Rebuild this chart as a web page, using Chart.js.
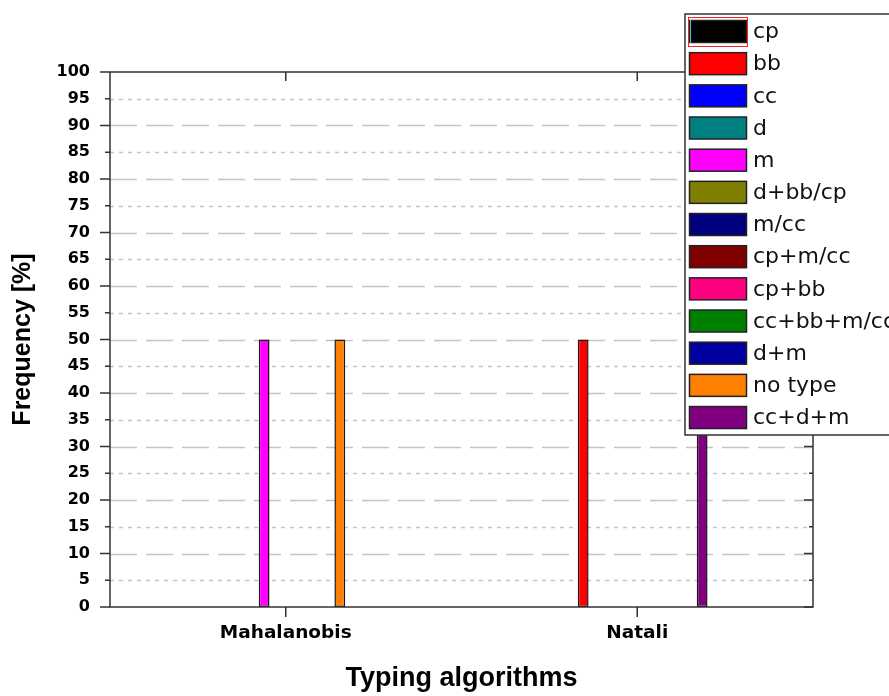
<!DOCTYPE html>
<html>
<head>
<meta charset="utf-8">
<script src="https://cdn.jsdelivr.net/npm/chart.js@4"></script>
<style>
  html, body { margin: 0; padding: 0; background: #fff; }
  #wrap { width: 889px; height: 696px; }
</style>
</head>
<body>
<div id="wrap"><canvas id="typingChart" width="889" height="696"></canvas></div>
<script>
// categories on the x axis
const categories = ['Mahalanobis', 'Natali'];

// one entry per series (legend order)
const seriesNames = ['cp', 'bb', 'cc', 'd', 'm', 'd+bb/cp', 'm/cc', 'cp+m/cc',
    'cp+bb', 'cc+bb+m/cc', 'd+m', 'no type', 'cc+d+m'];
const seriesColors = ['#000000', '#ff0000', '#0000ff', '#008080', '#ff00ff', '#808000',
    '#000080', '#800000', '#ff0080', '#008000', '#0000a0', '#ff8000', '#800080'];

// frequency [%] per series for each algorithm
const mahalanobisValues = [0, 0, 0, 0, 50, 0, 0, 0, 0, 0, 0, 50, 0];
const nataliValues = [0, 50, 0, 0, 0, 0, 0, 0, 0, 0, 0, 0, 50];

const yMin = 0, yMax = 100, yStep = 5;

Chart.defaults.font.family = 'DejaVu Sans';
Chart.defaults.color = '#000';

const datasets = seriesNames.map((name, i) => ({
    label: name,
    data: [mahalanobisValues[i], nataliValues[i]],
    backgroundColor: seriesColors[i],
    borderColor: '#1a1a1a',
    borderWidth: ctx => ctx.raw ? 1.5 : 0,
    borderSkipped: false,
    categoryPercentage: 0.4,
    barPercentage: 1.0
}));

// grid, frame, ticks and the boxed legend, drawn like the original plot
const framePlugin = {
    id: 'frame',
    beforeDatasetsDraw(chart) {
        const ctx = chart.ctx, area = chart.chartArea, y = chart.scales.y;
        ctx.save();
        ctx.strokeStyle = '#c4c4c4';
        ctx.lineWidth = 1.5;
        for (let v = yMin + yStep; v < yMax; v += yStep) {
            const py = Math.round(y.getPixelForValue(v)) + 0.5;
            ctx.setLineDash(v % 10 === 0 ? [27, 9] : [4, 5]);
            ctx.beginPath();
            ctx.moveTo(area.left, py);
            ctx.lineTo(area.right, py);
            ctx.stroke();
        }
        ctx.restore();
    },
    afterDatasetsDraw(chart) {
        const ctx = chart.ctx, area = chart.chartArea, x = chart.scales.x, y = chart.scales.y;
        ctx.save();
        ctx.strokeStyle = '#333';
        ctx.lineWidth = 1.5;
        ctx.strokeRect(area.left, area.top, area.right - area.left, area.bottom - area.top);
        ctx.beginPath();
        for (let v = yMin; v <= yMax; v += yStep) {
            const py = y.getPixelForValue(v);
            const len = v % 10 === 0 ? 10 : 5;
            ctx.moveTo(area.left - len, py);
            ctx.lineTo(area.left, py);
            ctx.moveTo(area.right, py);
            ctx.lineTo(area.right - len + 1, py);
        }
        categories.forEach((c, i) => {
            const px = x.getPixelForValue(i);
            ctx.moveTo(px, area.bottom);
            ctx.lineTo(px, area.bottom + 10);
            ctx.moveTo(px, area.top);
            ctx.lineTo(px, area.top + 9);
        });
        ctx.stroke();
        ctx.restore();
    },
    afterDraw(chart) {
        const ctx = chart.ctx;
        const boxX = 685, boxY = 14, rowTop = 31.5, rowStep = 32.17;
        ctx.save();
        ctx.fillStyle = '#fff';
        ctx.fillRect(boxX, boxY, 220, 421);
        ctx.strokeStyle = '#333';
        ctx.lineWidth = 1.5;
        ctx.strokeRect(boxX, boxY, 220, 421);
        ctx.font = '22px "DejaVu Sans"';
        ctx.textBaseline = 'middle';
        chart.data.datasets.forEach((ds, i) => {
            const cy = rowTop + i * rowStep;
            ctx.fillStyle = ds.backgroundColor;
            ctx.fillRect(689.5, cy - 11, 57, 22);
            ctx.strokeStyle = '#222';
            ctx.lineWidth = 1.5;
            ctx.strokeRect(689.5, cy - 11, 57, 22);
            ctx.fillStyle = '#111';
            ctx.fillText(ds.label, 753, cy + 1);
        });
        // selection outline on the first entry
        ctx.strokeStyle = '#ff2020';
        ctx.lineWidth = 1;
        ctx.strokeRect(688.5, 17.5, 59, 29);
        ctx.strokeStyle = '#00e0e0';
        ctx.beginPath();
        ctx.moveTo(690.5, 20);
        ctx.lineTo(690.5, 43);
        ctx.stroke();
        ctx.restore();
    }
};

new Chart(document.getElementById('typingChart'), {
    type: 'bar',
    data: { labels: categories, datasets: datasets },
    options: {
        responsive: false,
        animation: false,
        layout: { padding: { top: 72, right: 76, left: 0, bottom: 0 } },
        plugins: { legend: { display: false }, tooltip: { enabled: false } },
        scales: {
            x: {
                grid: { display: false, drawTicks: false },
                border: { display: false },
                ticks: { padding: 15, font: { size: 18.5, weight: 'bold' }, color: '#000' },
                title: {
                    display: true,
                    text: 'Typing algorithms',
                    font: { family: 'Liberation Sans', size: 27, weight: 'bold' },
                    color: '#000',
                    padding: { top: 0, bottom: 1 }
                },
                afterFit: s => { s.height = 89; }
            },
            y: {
                min: yMin,
                max: yMax,
                grid: { display: false, drawTicks: false },
                border: { display: false },
                ticks: { stepSize: yStep, padding: 20, font: { size: 16, weight: 'bold' }, color: '#000' },
                title: {
                    display: true,
                    text: 'Frequency [%]',
                    font: { family: 'Liberation Sans', size: 25, weight: 'bold' },
                    color: '#000',
                    padding: { top: 8, bottom: 0 }
                },
                afterFit: s => { s.width = 110; }
            }
        }
    },
    plugins: [framePlugin]
});
</script>
</body>
</html>
